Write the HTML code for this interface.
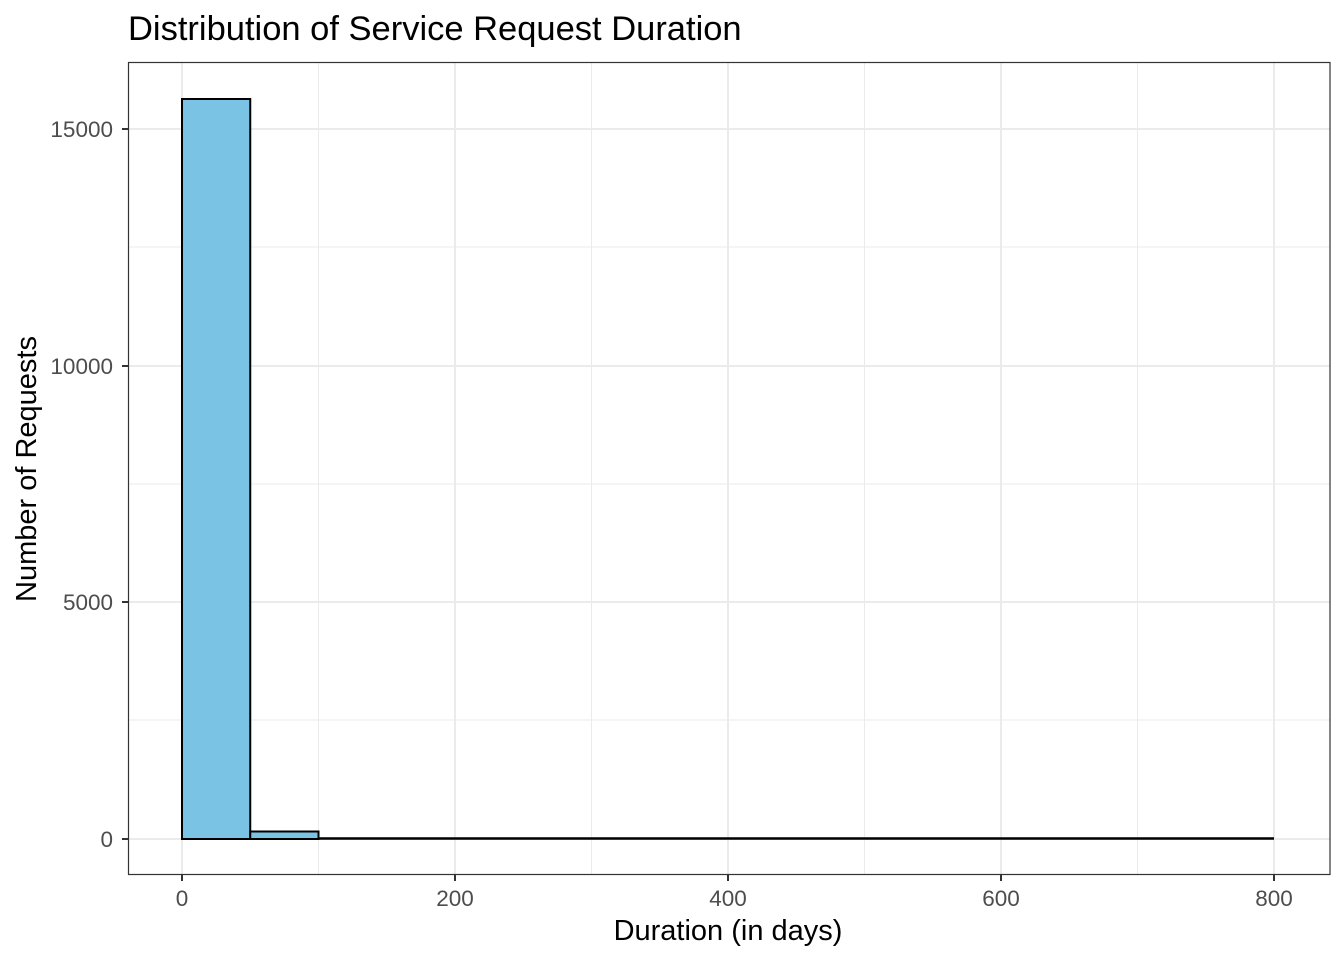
<!DOCTYPE html>
<html><head><style>body{margin:0;background:#fff}svg{display:block}</style></head><body>
<svg width="1344" height="960" xmlns="http://www.w3.org/2000/svg" font-family="Liberation Sans, sans-serif">
<rect width="1344" height="960" fill="#fff"/>
<g stroke="#ebebeb" stroke-width="1">
<line x1="318.5" y1="62" x2="318.5" y2="875"/><line x1="591.5" y1="62" x2="591.5" y2="875"/><line x1="864.5" y1="62" x2="864.5" y2="875"/><line x1="1137.5" y1="62" x2="1137.5" y2="875"/>
<line x1="128" y1="720" x2="1330" y2="720"/><line x1="128" y1="484" x2="1330" y2="484"/><line x1="128" y1="247" x2="1330" y2="247"/>
</g>
<g stroke="#ebebeb" stroke-width="2">
<line x1="182" y1="62" x2="182" y2="875"/><line x1="455" y1="62" x2="455" y2="875"/><line x1="728" y1="62" x2="728" y2="875"/><line x1="1001" y1="62" x2="1001" y2="875"/><line x1="1274" y1="62" x2="1274" y2="875"/>
<line x1="128" y1="839" x2="1330" y2="839"/><line x1="128" y1="602" x2="1330" y2="602"/><line x1="128" y1="366" x2="1330" y2="366"/><line x1="128" y1="129" x2="1330" y2="129"/>
</g>
<g fill="#7ac3e5" stroke="#000" stroke-width="2">
<rect x="182" y="99" width="68.25" height="740"/>
<rect x="250.25" y="831.5" width="68.25" height="7.5"/>
</g>
<line x1="318.5" y1="838.5" x2="1274" y2="838.5" stroke="#000" stroke-width="2.5"/>
<rect x="128.5" y="62.5" width="1201.5" height="812" fill="none" stroke="#333" stroke-width="1.2"/>
<g stroke="#333" stroke-width="2">
<line x1="182" y1="875" x2="182" y2="881"/><line x1="455" y1="875" x2="455" y2="881"/><line x1="728" y1="875" x2="728" y2="881"/><line x1="1001" y1="875" x2="1001" y2="881"/><line x1="1274" y1="875" x2="1274" y2="881"/>
<line x1="122" y1="839" x2="128" y2="839"/><line x1="122" y1="602" x2="128" y2="602"/><line x1="122" y1="366" x2="128" y2="366"/><line x1="122" y1="129" x2="128" y2="129"/>
</g>
<g fill="#4d4d4d" font-size="22.5" text-anchor="middle">
<text x="182" y="906">0</text><text x="455" y="906">200</text><text x="728" y="906">400</text><text x="1001" y="906">600</text><text x="1274" y="906">800</text>
</g>
<g fill="#4d4d4d" font-size="22.5" text-anchor="end">
<text x="113" y="847">0</text><text x="113" y="610">5000</text><text x="113" y="374">10000</text><text x="113" y="137">15000</text>
</g>
<text x="728" y="940" font-size="29" text-anchor="middle" fill="#000">Duration (in days)</text>
<text transform="translate(36,469) rotate(-90)" font-size="29" text-anchor="middle" fill="#000">Number of Requests</text>
<text x="128" y="40" font-size="34.5" fill="#000">Distribution of Service Request Duration</text>
</svg>
</body></html>
